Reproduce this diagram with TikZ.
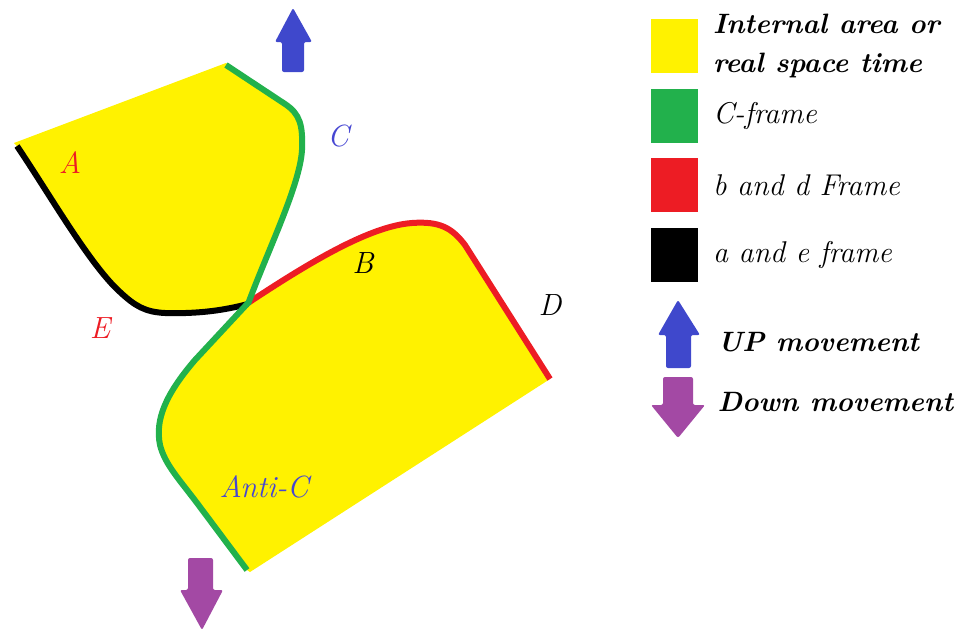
\documentclass[tikz,border=0pt]{standalone}
\usepackage{tikz}
\usepackage{xcolor}
\usetikzlibrary{positioning}
\definecolor{PaintYellow}{HTML}{FFF200}
\definecolor{PaintGreen}{HTML}{22B14C}
\definecolor{PaintRed}{HTML}{ED1C24}
\definecolor{PaintBlue}{HTML}{3F48CC}
\definecolor{PaintPurple}{HTML}{A349A4}
\definecolor{LabelBlue}{HTML}{4646D2}
\tikzset{
  areaFill/.style={
    fill=PaintYellow
  },
  frameBase/.style={
    line width=4.5pt,
    line join=round
  },
  cFrame/.style={
    frameBase,
    draw=PaintGreen
  },
  bdFrame/.style={
    frameBase,
    draw=PaintRed
  },
  aeFrame/.style={
    frameBase,
    draw=black
  },
  upMove/.style={
    fill=PaintBlue,
    rounded corners=1.5pt
  },
  downMove/.style={
    fill=PaintPurple,
    rounded corners=1.5pt
  },
  ptLabel/.style={
    font=\fontsize{23pt}{27pt}\selectfont\itshape,
    inner sep=1pt
  },
  keySwatch/.style={
    minimum width=35pt,
    minimum height=40.5pt,
    inner sep=0pt
  },
  keyText/.style={
    font=\fontsize{22.5pt}{29pt}\selectfont\itshape,
    align=left,
    inner sep=1pt
  },
  keyTextBold/.style={
    keyText,
    font=\fontsize{21pt}{29pt}\selectfont\bfseries\itshape
  }
}

\begin{document}
\begin{tikzpicture}[x=0.75pt, y=-0.75pt]
    \useasboundingbox (0,0) rectangle (968,632);

    % Zona superior
    \fill [areaFill] (14,143) -- (226,63) -- (285,104)
      .. controls (300,114) and (303,125) .. (302,150)
      .. controls (300,185) and (268,250) .. (248,304)
      .. controls (225,310) and (200,314) .. (165,313)
      .. controls (145,312) and (135,306) .. (120,292)
      .. controls (90,265) and (50,195) .. (18,147)
      -- cycle;

    % Zona inferior
    \fill [areaFill] (248,303)
      .. controls (310,262) and (370,226) .. (412,223)
      .. controls (440,221) and (452,228) .. (465,245)
      -- (550,379) -- (250,572) -- (247,570) -- (200,507)
      .. controls (180,480) and (165,465) .. (160,445)
      .. controls (155,420) and (165,395) .. (195,360)
      -- cycle;

    % Marcos
    \draw [aeFrame] (17,146)
      .. controls (50,195) and (90,265) .. (120,292)
      .. controls (135,306) and (145,312) .. (165,313)
      .. controls (200,314) and (225,310) .. (248,304);
    \draw [bdFrame] (248,303)
      .. controls (310,262) and (370,226) .. (412,223)
      .. controls (440,221) and (452,228) .. (465,245)
      -- (550,379);
    \draw [cFrame] (226,65) -- (285,104)
      .. controls (300,114) and (303,125) .. (302,150)
      .. controls (300,185) and (268,250) .. (248,304);
    \draw [cFrame] (248,303) -- (195,360)
      .. controls (165,395) and (155,420) .. (160,445)
      .. controls (165,465) and (180,480) .. (200,507)
      -- (247,570);

    % Etiquetas
    \node (lblA) [ptLabel, text=PaintRed] at (70,163) {A};
    \node (lblC) [ptLabel, text=LabelBlue] at (338,136) {C};
    \node (lblE) [ptLabel, text=PaintRed] at (100,328) {E};
    \node (lblB) [ptLabel] at (363,263) {B};
    \node (lblD) [ptLabel] at (550,305) {D};
    \node (lblAntiC) [ptLabel, text=LabelBlue] at (264,487) {Anti-C};

    % Flechas de movimiento
    \fill [upMove] (282,72) -- (282,42) -- (275,42) -- (293,8)
      -- (312,42) -- (304,42) -- (304,72) -- cycle;
    \fill [downMove] (188,558) -- (213,558) -- (213,590) -- (223,590)
      -- (202,630) -- (180,590) -- (188,590) -- cycle;

    % Leyenda
    \node (keyArea) [keySwatch, fill=PaintYellow] at (674.5,46) {};
    \node (keyC) [keySwatch, fill=PaintGreen, below=11.25pt of keyArea] {};
    \node (keyBD) [keySwatch, fill=PaintRed, below=11.25pt of keyC] {};
    \node (keyAE) [keySwatch, fill=black, below=11.25pt of keyBD] {};

    \node (txtArea) [keyTextBold, right=10pt of keyArea] {Internal area or\\real space time};
    \node (txtC) [keyText, right=10pt of keyC] {C-frame};
    \node (txtBD) [keyText, right=10pt of keyBD] {b and d Frame};
    \node (txtAE) [keyText, right=10pt of keyAE] {a and e frame};

    \fill [upMove] (666,368) -- (666,335) -- (658,335) -- (678,300)
      -- (700,335) -- (691,335) -- (691,368) -- cycle;
    \fill [downMove] (663,377) -- (693,377) -- (693,405) -- (705,405)
      -- (678,438) -- (651,405) -- (663,405) -- cycle;

    \node (txtUp) [keyTextBold, anchor=west] at (716,342) {UP movement};
    \node (txtDown) [keyTextBold, anchor=west] at (716,402) {Down movement};
\end{tikzpicture}
\end{document}
